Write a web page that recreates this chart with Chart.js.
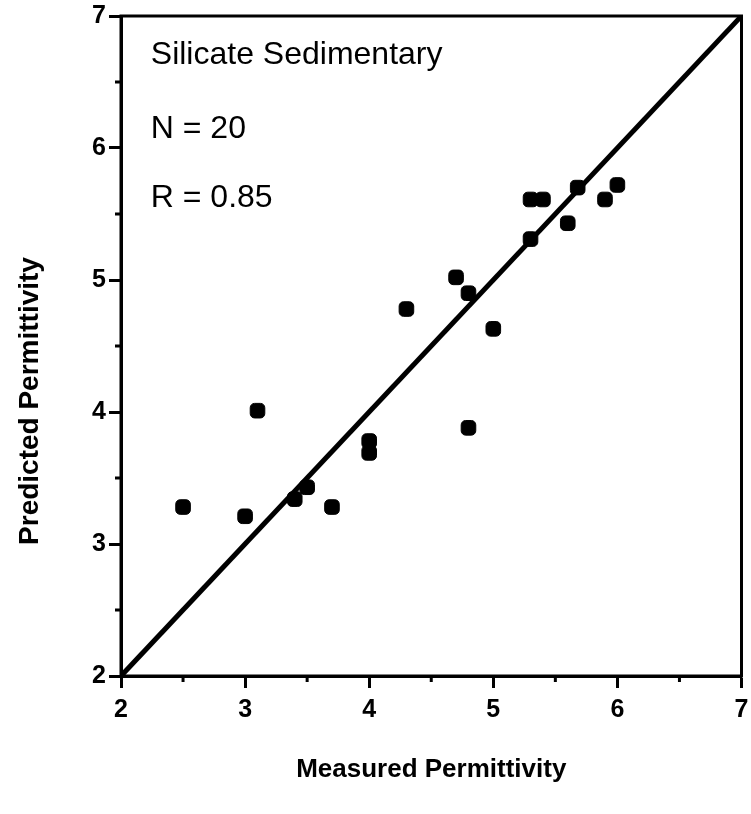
<!DOCTYPE html>
<html>
<head>
<meta charset="utf-8">
<script src="https://cdn.jsdelivr.net/npm/chart.js@4"></script>
<style>
  html, body { margin: 0; padding: 0; background: #fff; }
  #wrap { width: 751px; height: 814px; }
</style>
</head>
<body>
<div id="wrap"><canvas id="chart" width="751" height="814"></canvas></div>
<script>
// measured vs predicted permittivity, silicate sedimentary samples
const measured  = [2.5, 3.0, 3.1, 3.4, 3.5, 3.7, 4.0, 4.0, 4.3, 4.7, 4.8, 4.8, 5.0, 5.3, 5.4, 5.3, 5.6, 5.68, 5.9, 6.0];
const predicted = [3.28, 3.21, 4.01, 3.34, 3.43, 3.28, 3.78, 3.69, 4.78, 5.02, 4.9, 3.88, 4.63, 5.61, 5.61, 5.31, 5.43, 5.7, 5.61, 5.72];
const oneToOne  = [2, 7];
const minorTicks = [2.5, 3.5, 4.5, 5.5, 6.5];
const noteLines = ['Silicate Sedimentary', 'N = 20', 'R = 0.85'];
const noteY     = [6.70, 6.14, 5.62];
const noteX     = 2.24;
const xTitle = 'Measured Permittivity';
const yTitle = 'Predicted Permittivity';

const FONT = '"Liberation Sans", Arial, Helvetica, sans-serif';

const points = measured.map((m, i) => ({ x: m, y: predicted[i] }));

const overlay = {
  id: 'overlay',
  afterDraw(chart) {
    const { ctx, chartArea: a, scales: { x, y } } = chart;
    ctx.save();
    ctx.strokeStyle = '#000';
    ctx.fillStyle = '#000';

    // box round the plot
    ctx.lineWidth = 3;
    ctx.strokeRect(a.left, a.top, a.right - a.left, a.bottom - a.top);

    // short half-unit ticks
    ctx.lineWidth = 3;
    ctx.beginPath();
    minorTicks.forEach(v => {
      const px = x.getPixelForValue(v);
      ctx.moveTo(px, a.bottom); ctx.lineTo(px, a.bottom + 6);
      const py = y.getPixelForValue(v);
      ctx.moveTo(a.left - 6, py); ctx.lineTo(a.left, py);
    });
    ctx.stroke();

    // notes in the upper left
    ctx.font = '32px ' + FONT;
    ctx.textAlign = 'left';
    ctx.textBaseline = 'middle';
    noteLines.forEach((t, i) => {
      ctx.fillText(t, x.getPixelForValue(noteX), y.getPixelForValue(noteY[i]));
    });

    // axis titles
    ctx.textAlign = 'center';
    ctx.font = 'bold 26px ' + FONT;
    ctx.fillText(xTitle, (a.left + a.right) / 2, 770);
    ctx.font = 'bold 28px ' + FONT;
    ctx.translate(30, 401);
    ctx.rotate(-Math.PI / 2);
    ctx.fillText(yTitle, 0, 0);
    ctx.restore();
  }
};

new Chart(document.getElementById('chart'), {
  type: 'scatter',
  data: {
    datasets: [
      {
        data: points,
        pointStyle: 'rectRounded',
        pointRadius: 8.5,
        pointBackgroundColor: '#000',
        pointBorderColor: '#000',
        pointBorderWidth: 1
      },
      {
        type: 'line',
        data: oneToOne.map(v => ({ x: v, y: v })),
        borderColor: '#000',
        borderWidth: 5,
        pointRadius: 0,
        fill: false
      }
    ]
  },
  options: {
    responsive: false,
    animation: false,
    layout: { padding: { top: 16, right: 6, left: 0, bottom: 0 } },
    plugins: { legend: { display: false }, tooltip: { enabled: false } },
    scales: {
      x: {
        type: 'linear', min: 2, max: 7,
        afterFit: s => { s.height = 138; s.paddingRight = 0; s.paddingLeft = 0; },
        border: { color: '#000', width: 3 },
        grid: { drawOnChartArea: false, tickLength: 12, tickColor: '#000', tickWidth: 3 },
        ticks: { stepSize: 1, color: '#000', padding: 7, font: { family: FONT, size: 25, weight: 'bold' } }
      },
      y: {
        type: 'linear', min: 2, max: 7,
        afterFit: s => { s.width = 121; s.paddingTop = 0; s.paddingBottom = 0; },
        border: { color: '#000', width: 3 },
        grid: { drawOnChartArea: false, tickLength: 12, tickColor: '#000', tickWidth: 3 },
        ticks: { stepSize: 1, color: '#000', padding: 3, font: { family: FONT, size: 25, weight: 'bold' } }
      }
    }
  },
  plugins: [overlay]
});
</script>
</body>
</html>
